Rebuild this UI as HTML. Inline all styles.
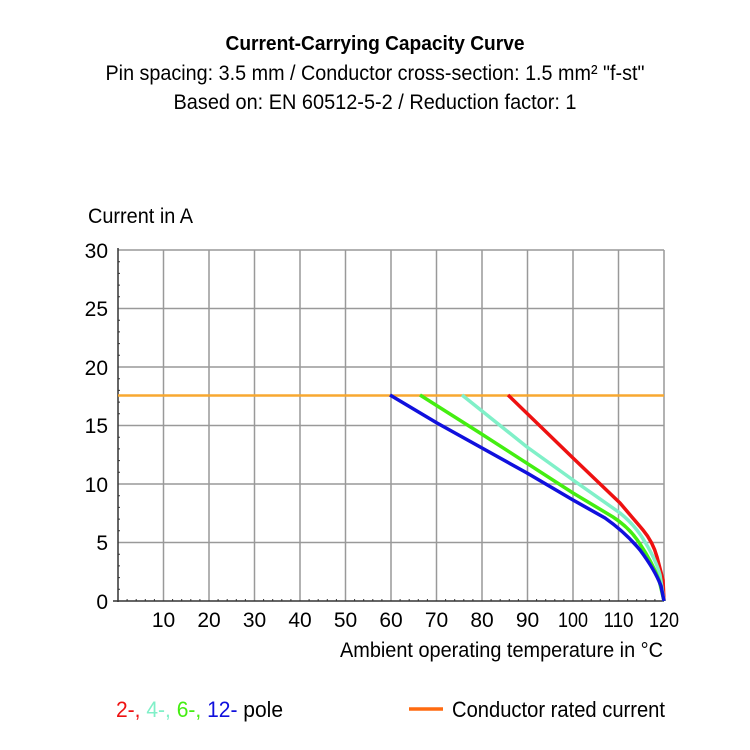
<!DOCTYPE html>
<html><head><meta charset="utf-8"><style>body{margin:0;background:#fff}svg{display:block}</style></head><body>
<svg width="750" height="750" viewBox="0 0 750 750" xmlns="http://www.w3.org/2000/svg" font-family="Liberation Sans, sans-serif">
<text x="375" y="50" text-anchor="middle" font-size="20" font-weight="bold" textLength="299" lengthAdjust="spacingAndGlyphs">Current-Carrying Capacity Curve</text>
<text x="375" y="80" text-anchor="middle" font-size="21" textLength="539" lengthAdjust="spacingAndGlyphs">Pin spacing: 3.5 mm / Conductor cross-section: 1.5 mm² "f-st"</text>
<text x="375" y="109" text-anchor="middle" font-size="21" textLength="403" lengthAdjust="spacingAndGlyphs">Based on: EN 60512-5-2 / Reduction factor: 1</text>
<text x="88" y="223" font-size="21" textLength="105" lengthAdjust="spacingAndGlyphs">Current in A</text>
<g stroke="#999" stroke-width="1.5">
<line x1="163.5" y1="250" x2="163.5" y2="601"/><line x1="209" y1="250" x2="209" y2="601"/><line x1="254.5" y1="250" x2="254.5" y2="601"/><line x1="300" y1="250" x2="300" y2="601"/><line x1="345.5" y1="250" x2="345.5" y2="601"/><line x1="391" y1="250" x2="391" y2="601"/><line x1="436.5" y1="250" x2="436.5" y2="601"/><line x1="482" y1="250" x2="482" y2="601"/><line x1="527.5" y1="250" x2="527.5" y2="601"/><line x1="573" y1="250" x2="573" y2="601"/><line x1="618.5" y1="250" x2="618.5" y2="601"/><line x1="664" y1="250" x2="664" y2="601"/>
<line x1="118" y1="250" x2="664" y2="250"/><line x1="118" y1="308.5" x2="664" y2="308.5"/><line x1="118" y1="367" x2="664" y2="367"/><line x1="118" y1="425.5" x2="664" y2="425.5"/><line x1="118" y1="484" x2="664" y2="484"/><line x1="118" y1="542.5" x2="664" y2="542.5"/>
</g>
<g stroke="#333" stroke-width="1.5"><line x1="118" y1="248" x2="118" y2="602"/><line x1="113" y1="601" x2="664" y2="601"/></g>
<g stroke="#333" stroke-width="1">
<path d="M118 261.7h2M118 273.4h2M118 285.1h2M118 296.8h2M118 320.2h2M118 331.9h2M118 343.6h2M118 355.3h2M118 378.7h2M118 390.4h2M118 402.1h2M118 413.8h2M118 437.2h2M118 448.9h2M118 460.6h2M118 472.3h2M118 495.7h2M118 507.4h2M118 519.1h2M118 530.8h2M118 554.2h2M118 565.9h2M118 577.6h2M118 589.3h2"/>
<path d="M127.1 601v-2M136.2 601v-2M145.3 601v-2M154.4 601v-2M172.6 601v-2M181.7 601v-2M190.8 601v-2M199.9 601v-2M218.1 601v-2M227.2 601v-2M236.3 601v-2M245.4 601v-2M263.6 601v-2M272.7 601v-2M281.8 601v-2M290.9 601v-2M309.1 601v-2M318.2 601v-2M327.3 601v-2M336.4 601v-2M354.6 601v-2M363.7 601v-2M372.8 601v-2M381.9 601v-2M400.1 601v-2M409.2 601v-2M418.3 601v-2M427.4 601v-2M445.6 601v-2M454.7 601v-2M463.8 601v-2M472.9 601v-2M491.1 601v-2M500.2 601v-2M509.3 601v-2M518.4 601v-2M536.6 601v-2M545.7 601v-2M554.8 601v-2M563.9 601v-2M582.1 601v-2M591.2 601v-2M600.3 601v-2M609.4 601v-2M627.6 601v-2M636.7 601v-2M645.8 601v-2M654.9 601v-2"/>
</g>
<g font-size="21" text-anchor="end">
<text x="108" y="258">30</text><text x="108" y="316">25</text><text x="108" y="375">20</text><text x="108" y="433">15</text><text x="108" y="492">10</text><text x="108" y="550">5</text><text x="108" y="609">0</text>
</g>
<g font-size="21" text-anchor="middle">
<text x="163.5" y="627">10</text><text x="209" y="627">20</text><text x="254.5" y="627">30</text><text x="300" y="627">40</text><text x="345.5" y="627">50</text><text x="391" y="627">60</text><text x="436.5" y="627">70</text><text x="482" y="627">80</text><text x="527.5" y="627">90</text><text x="573" y="627" textLength="30" lengthAdjust="spacingAndGlyphs">100</text><text x="618.5" y="627" textLength="30" lengthAdjust="spacingAndGlyphs">110</text><text x="664" y="627" textLength="30" lengthAdjust="spacingAndGlyphs">120</text>
</g>
<text x="340" y="657" font-size="21" textLength="323" lengthAdjust="spacingAndGlyphs">Ambient operating temperature in °C</text>
<line x1="118" y1="395.5" x2="664" y2="395.5" stroke="#f8a830" stroke-width="2.5"/>
<g fill="none" stroke-width="3.5" stroke-linejoin="round">
<path stroke="#ee1111" d="M508 395 L573 458 L620 503 L643 530 Q653 542 657 557 L663 580 L664 601"/>
<path stroke="#80f0c8" d="M462 395 L527 447 L573 480 L620 513 Q636 526 645 542 Q656 560 660 575 L664 601"/>
<path stroke="#44ee11" d="M420 395 L480 433 L573 493 L613 517 Q630 528 640 544 Q652 562 659 580 L664 601"/>
<path stroke="#1010dd" d="M390 395 L437 423 L527 473 L573 500 L605 518 Q625 532 640 550 Q655 570 661 586 L664 601"/>
</g>
<g font-size="22">
<text x="116" y="717" textLength="167" lengthAdjust="spacingAndGlyphs"><tspan fill="#ee1111">2-,</tspan> <tspan fill="#80f0c8">4-,</tspan> <tspan fill="#44ee11">6-,</tspan> <tspan fill="#1010dd">12-</tspan>  <tspan fill="#000">pole</tspan></text>
<text x="452" y="717" textLength="213" lengthAdjust="spacingAndGlyphs">Conductor rated current</text>
</g>
<line x1="409" y1="709" x2="443" y2="709" stroke="#ff6a10" stroke-width="3.5"/>
</svg>
</body></html>
